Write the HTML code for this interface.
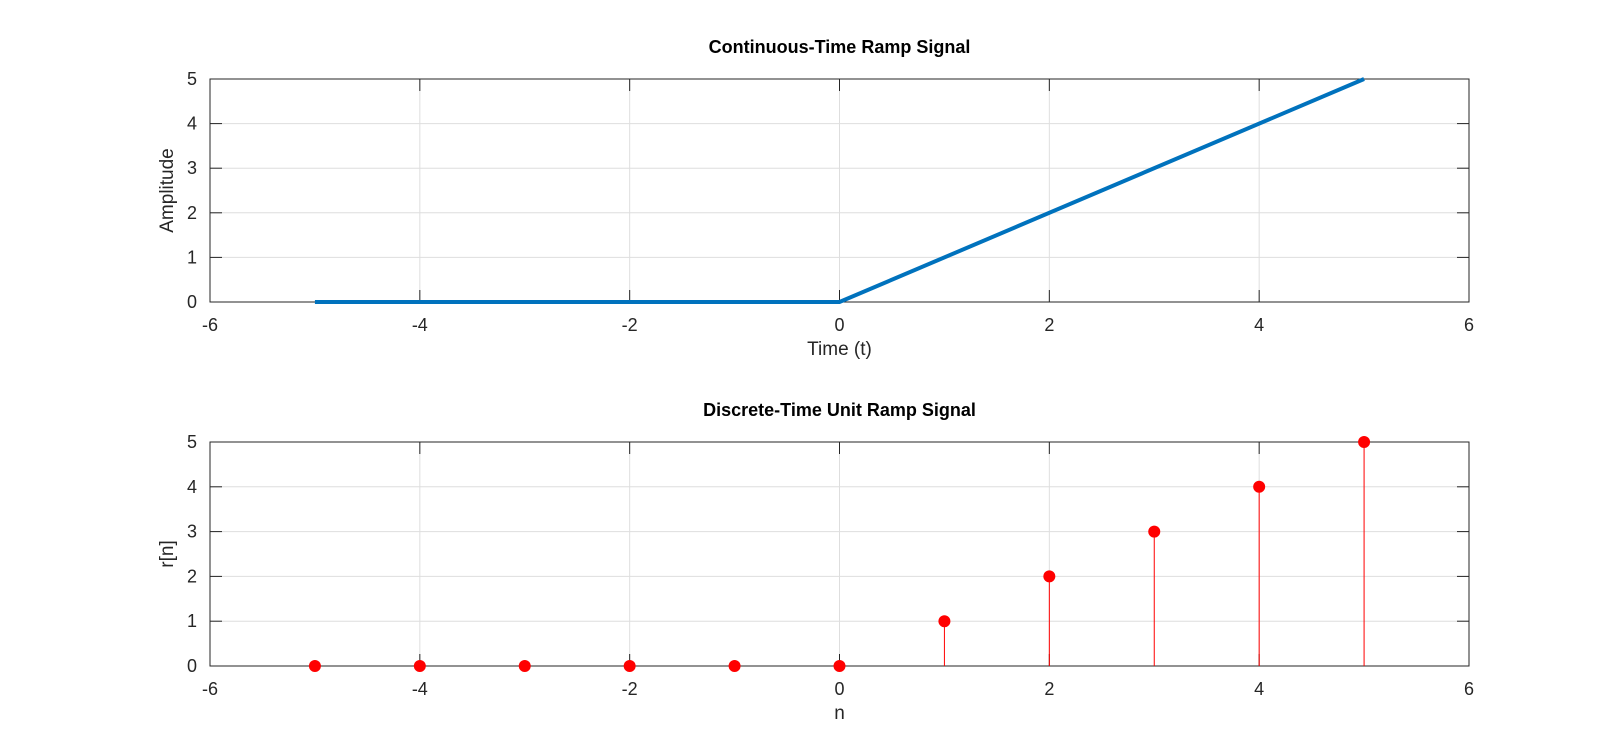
<!DOCTYPE html>
<html><head><meta charset="utf-8"><style>
body{margin:0;background:#fff;}
svg{display:block;font-family:"Liberation Sans",sans-serif;}
</style></head><body>
<svg id="c" width="1623" height="748"></svg>
<script>
const ctT=[-5,5], ctY=[0,5];
const rampT=[-5,0,5];
const rampV=[0,0,5];
const nVals=[-5,-4,-3,-2,-1,0,1,2,3,4,5];
const rVals=[0,0,0,0,0,0,1,2,3,4,5];
const xTicks=[-6,-4,-2,0,2,4,6];
const yTicks=[0,1,2,3,4,5];
const NS="http://www.w3.org/2000/svg";
const svg=document.getElementById('c');
function el(t,a,p){const e=document.createElementNS(NS,t);for(const k in a)e.setAttribute(k,a[k]);(p||svg).appendChild(e);return e;}
const L=210,R=1469;
function X(v){return L+(v+6)/12*(R-L);}
function axes(top,bot,title,xl,yl,name){
  const g=el('g',{});
  
  
  const Y=v=>bot-(v/5)*(bot-top);
  el('rect',{x:L,y:top,width:R-L,height:bot-top,fill:'#fff'},g);
  xTicks.forEach(t=>{el('line',{x1:X(t),x2:X(t),y1:top,y2:bot,stroke:'#dedede','stroke-width':1},g);});
  yTicks.forEach(t=>{el('line',{x1:L,x2:R,y1:Y(t),y2:Y(t),stroke:'#dedede','stroke-width':1},g);});
  el('rect',{x:L,y:top,width:R-L,height:bot-top,fill:'none',stroke:'#262626','stroke-width':1},g);
  xTicks.forEach(t=>{
    el('line',{x1:X(t),x2:X(t),y1:bot,y2:bot-12,stroke:'#262626'},g);
    el('line',{x1:X(t),x2:X(t),y1:top,y2:top+12,stroke:'#262626'},g);
    const tx=el('text',{x:X(t),y:bot+29,'text-anchor':'middle','font-size':18,fill:'#262626'},g);
    
    
    tx.textContent=t;
  });
  yTicks.forEach(t=>{
    el('line',{x1:L,x2:L+12,y1:Y(t),y2:Y(t),stroke:'#262626'},g);
    el('line',{x1:R,x2:R-12,y1:Y(t),y2:Y(t),stroke:'#262626'},g);
    const tx=el('text',{x:L-13,y:Y(t)+6,'text-anchor':'end','font-size':18,fill:'#262626'},g);
    
    
    tx.textContent=t;
  });
  const ti=el('text',{x:(L+R)/2,y:top-26,'text-anchor':'middle','font-size':18,'font-weight':'bold',fill:'#000'},g);
  
  
  ti.textContent=title;
  const xa=el('text',{x:(L+R)/2,y:bot+53,'text-anchor':'middle','font-size':19,fill:'#262626'},g);
  
  
  xa.textContent=xl;
  const ya=el('text',{x:0,y:0,'text-anchor':'middle','font-size':19,fill:'#262626',transform:`translate(173,${(top+bot)/2}) rotate(-90)`},g);
  
  
  ya.textContent=yl;
  return Y;
}
const Y1=axes(79,302,'Continuous-Time Ramp Signal','Time (t)','Amplitude','top-axes');
const pl=el('polyline',{points:rampT.map((t,i)=>X(t)+','+Y1(rampV[i])).join(' '),fill:'none',stroke:'#0072bd','stroke-width':4});


const Y2=axes(442,666,'Discrete-Time Unit Ramp Signal','n','r[n]','bottom-axes');
nVals.forEach((n,i)=>{
  const s=el('line',{x1:X(n),x2:X(n),y1:Y2(0),y2:Y2(rVals[i]),stroke:'#ff0000','stroke-width':1});
  
  
  const c=el('circle',{cx:X(n),cy:Y2(rVals[i]),r:6,fill:'#ff0000'});
  
  
});
</script>
</body></html>
